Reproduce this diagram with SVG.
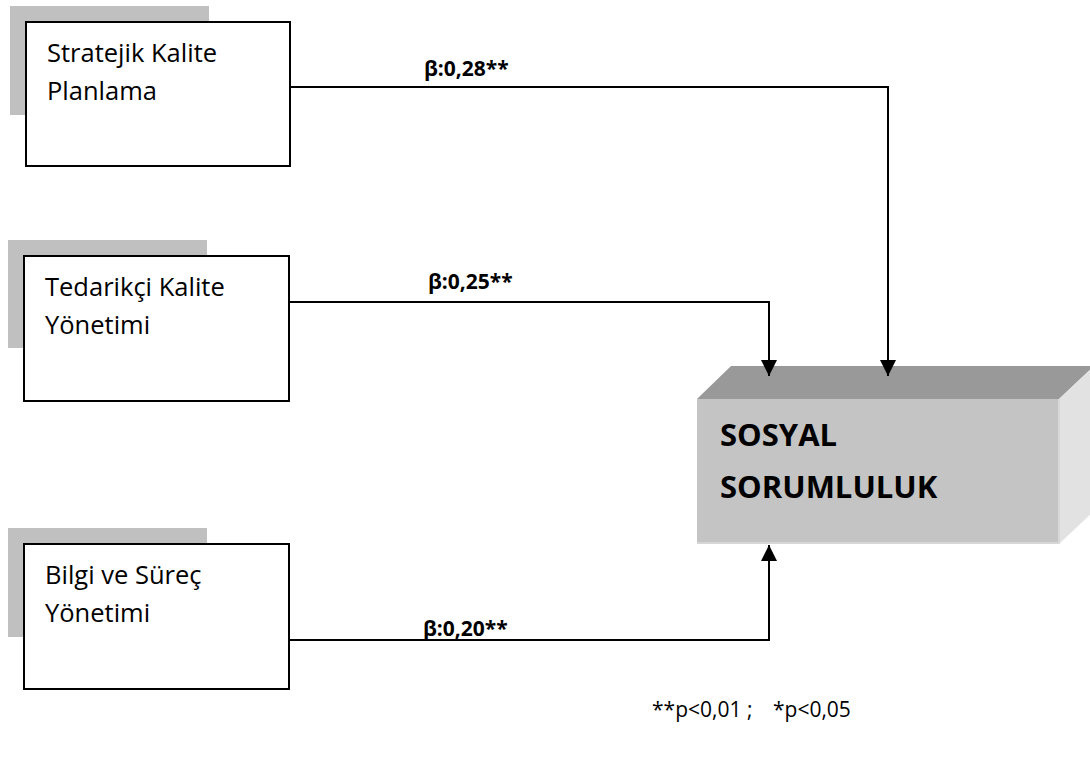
<svg xmlns="http://www.w3.org/2000/svg" width="1090" height="758" viewBox="0 0 1090 758">
  <defs>
    <style>
      .shadow { fill: #c0c0c0; }
      .box { fill: #ffffff; stroke: #000000; stroke-width: 2; }
      .lbl { font-family: "Open Sans", "Noto Sans", sans-serif; font-size: 25.5px; fill: #000; }
      .beta { font-family: "Open Sans", "Noto Sans", sans-serif; font-size: 21px; font-weight: bold; fill: #000; }
      .big { font-family: "Open Sans", "Noto Sans", sans-serif; font-size: 31px; font-weight: bold; fill: #000; }
      .note { font-family: "Open Sans", "Noto Sans", sans-serif; font-size: 21px; fill: #000; }
      .wire { fill: none; stroke: #000; stroke-width: 2; }
    </style>
    <marker id="arrow" viewBox="0 0 10 10" refX="10" refY="5" markerWidth="8" markerHeight="8" markerUnits="strokeWidth" orient="auto">
      <path d="M0,0 L10,5 L0,10 Z" fill="#000"/>
    </marker>
  </defs>

  <g id="strategic-quality-planning">
    <rect class="shadow" x="10" y="6" width="199" height="109"/>
    <rect class="box" x="26" y="22" width="264" height="144"/>
    <text class="lbl" x="47" y="62">Stratejik Kalite</text>
    <text class="lbl" x="47" y="100">Planlama</text>
  </g>

  <g id="supplier-quality-management">
    <rect class="shadow" x="8" y="240" width="199" height="108"/>
    <rect class="box" x="24" y="256" width="265" height="145"/>
    <text class="lbl" x="45" y="296">Tedarikçi Kalite</text>
    <text class="lbl" x="45" y="334">Yönetimi</text>
  </g>

  <g id="information-process-management">
    <rect class="shadow" x="8" y="528" width="199" height="109"/>
    <rect class="box" x="24" y="544" width="265" height="145"/>
    <text class="lbl" x="45" y="584">Bilgi ve Süreç</text>
    <text class="lbl" x="45" y="622">Yönetimi</text>
  </g>

  <g id="social-responsibility">
    <polygon points="697,399 731,366 1094,366 1059,399" fill="#999999"/>
    <polygon points="1059,399 1094,366 1094,511 1059,544" fill="#e2e2e2"/>
    <rect x="697" y="399" width="362" height="145" fill="#c4c4c4"/>
    <line x1="697" y1="543" x2="1059" y2="543" stroke="#d6d6d6" stroke-width="2"/>
    <line x1="1059" y1="399" x2="1059" y2="544" stroke="#d8d8d8" stroke-width="2"/>
    <text class="big" x="720" y="446">SOSYAL</text>
    <text class="big" x="720" y="498">SORUMLULUK</text>
  </g>

  <g id="connectors">
    <polyline class="wire" points="290,87 888,87 888,376" marker-end="url(#arrow)"/>
    <polyline class="wire" points="289,302 769,302 769,376" marker-end="url(#arrow)"/>
    <polyline class="wire" points="289,640 769,640 769,545" marker-end="url(#arrow)"/>
    <text class="beta" x="424" y="76">β:0,28**</text>
    <text class="beta" x="428" y="289">β:0,25**</text>
    <text class="beta" x="423" y="636">β:0,20**</text>
  </g>

  <g id="footnote">
    <text class="note" x="652" y="717">**p&lt;0,01 ;</text>
    <text class="note" x="773" y="717">*p&lt;0,05</text>
  </g>
</svg>
